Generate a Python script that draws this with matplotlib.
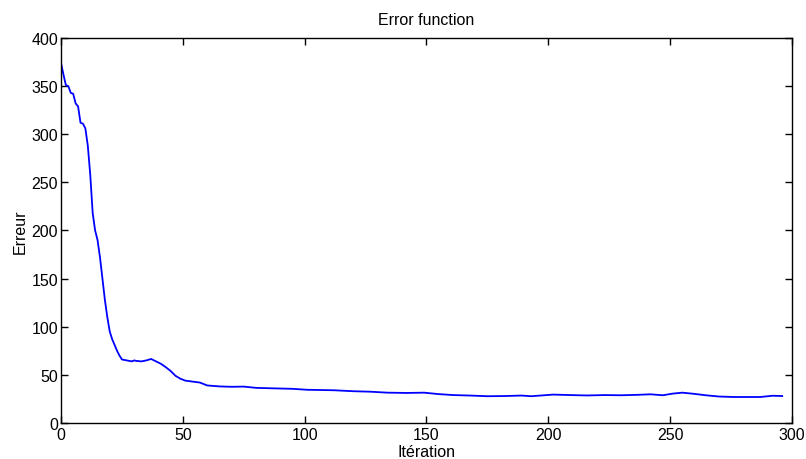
"""Error curve over training iterations (MATLAB-like styling)."""

import matplotlib
matplotlib.use("Agg")
import matplotlib.pyplot as plt

# values
iterations = [
    0, 1, 2, 3, 4, 5, 6, 7, 8, 9, 10, 11, 12, 13, 14, 15, 16, 17, 18, 19,
    20, 21, 22, 23, 24, 25, 27, 29, 30, 31, 33, 35, 37, 39, 41, 43, 45, 47,
    49, 51, 54, 57, 60, 65, 70, 75, 80, 87, 95, 101, 112, 120, 127, 134,
    142, 149, 155, 161, 168, 175, 182, 189, 193, 202, 209, 216, 223, 230,
    236, 242, 247, 251, 255, 259, 265, 270, 276, 282, 287, 292, 296,
]
errors = [
    374, 362, 351, 350, 343, 342, 332, 329, 312, 311, 306, 288, 258, 218,
    200, 190, 172, 150, 128, 110, 95, 87, 81, 75, 70, 66, 65, 64, 65, 64.5,
    64, 65, 66.5, 64, 61.5, 58, 54, 49, 46, 44, 43, 42, 39, 38, 37.6, 37.8,
    36.5, 36, 35.5, 34.5, 34, 33, 32.5, 31.5, 31.2, 31.5, 30, 29, 28.5,
    27.8, 28, 28.5, 27.8, 29.5, 29, 28.6, 29, 28.8, 29.2, 29.8, 28.8, 30.5,
    31.5, 30.5, 28.7, 27.5, 27, 27, 27, 28.3, 28,
]

x_ticks = [0, 50, 100, 150, 200, 250, 300]
y_ticks = [0, 50, 100, 150, 200, 250, 300, 350, 400]

plt.rcParams["font.family"] = ["Liberation Sans", "DejaVu Sans"]
plt.rcParams["font.size"] = 11.5

fig = plt.figure(figsize=(8.06, 4.6), dpi=100)
ax = fig.add_axes([0.0757, 0.0783, 0.9069, 0.8369])

ax.plot(iterations, errors, color="#0000ff", linewidth=1.3)

ax.set_xlim(0, 300)
ax.set_ylim(0, 400)
ax.set_xticks(x_ticks)
ax.set_yticks(y_ticks)
ax.tick_params(direction="in", top=True, right=True, length=5, width=1,
               labelsize=11.5, pad=2)
ax.tick_params(axis="x", pad=3)
for spine in ax.spines.values():
    spine.set_linewidth(1)

ax.set_title("Error function", fontsize=11.5, pad=10)
ax.set_xlabel("Itération", fontsize=11.5, labelpad=1)
ax.set_ylabel("Erreur", fontsize=11.5, labelpad=3)

fig.savefig("out.png", dpi=100)
